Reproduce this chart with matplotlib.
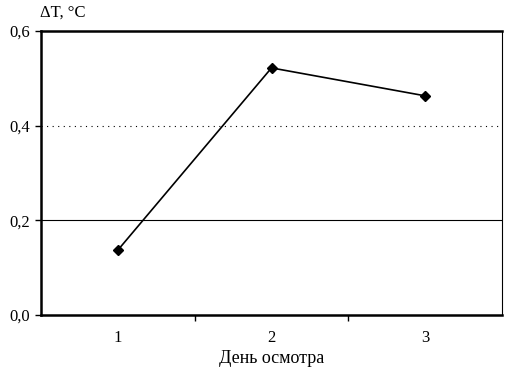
import matplotlib.pyplot as plt
from matplotlib.ticker import FixedLocator, FixedFormatter

days = ["1", "2", "3"]
delta_t = [0.137, 0.522, 0.463]
y_ticks = [0.0, 0.2, 0.4, 0.6]
y_labels = ["0,0", "0,2", "0,4", "0,6"]

plt.rcParams["font.family"] = ["Liberation Serif", "DejaVu Serif"]

fig = plt.figure(figsize=(5.17, 3.84), dpi=100)
ax = fig.add_axes([0.0793, 0.1797, 0.8917, 0.7396])

x = list(range(len(days)))
ax.plot(x, delta_t, color="black", linewidth=1.2, marker="D", markersize=5,
        zorder=3)

ax.set_xlim(-0.5, len(days) - 0.5)
ax.set_ylim(0, 0.6)

ax.axhline(0.2, color="black", linewidth=0.8, zorder=1)
ax.axhline(0.4, color="black", linewidth=0.8, linestyle=(0, (1, 4)), zorder=1)

ax.yaxis.set_major_locator(FixedLocator(y_ticks))
ax.yaxis.set_major_formatter(FixedFormatter(y_labels))
ax.xaxis.set_major_locator(FixedLocator([i + 0.5 for i in range(len(days) - 1)]))
ax.xaxis.set_major_formatter(FixedFormatter([""] * (len(days) - 1)))
ax.xaxis.set_minor_locator(FixedLocator(x))
ax.xaxis.set_minor_formatter(FixedFormatter(days))
ax.tick_params(axis="x", which="major", direction="out", length=4, width=1)
ax.tick_params(axis="x", which="minor", length=0, pad=11, labelsize=12)
ax.tick_params(axis="y", direction="out", length=4, width=1, labelsize=12, pad=4)

for side in ["left", "bottom", "top"]:
    ax.spines[side].set_linewidth(1.8)
ax.spines["right"].set_linewidth(0.8)

ax.set_xlabel("День осмотра", fontsize=13, labelpad=3)
fig.text(0.078, 0.968, "ΔT, °C", fontsize=12, va="center", ha="left")

fig.savefig("out.png", dpi=100)
